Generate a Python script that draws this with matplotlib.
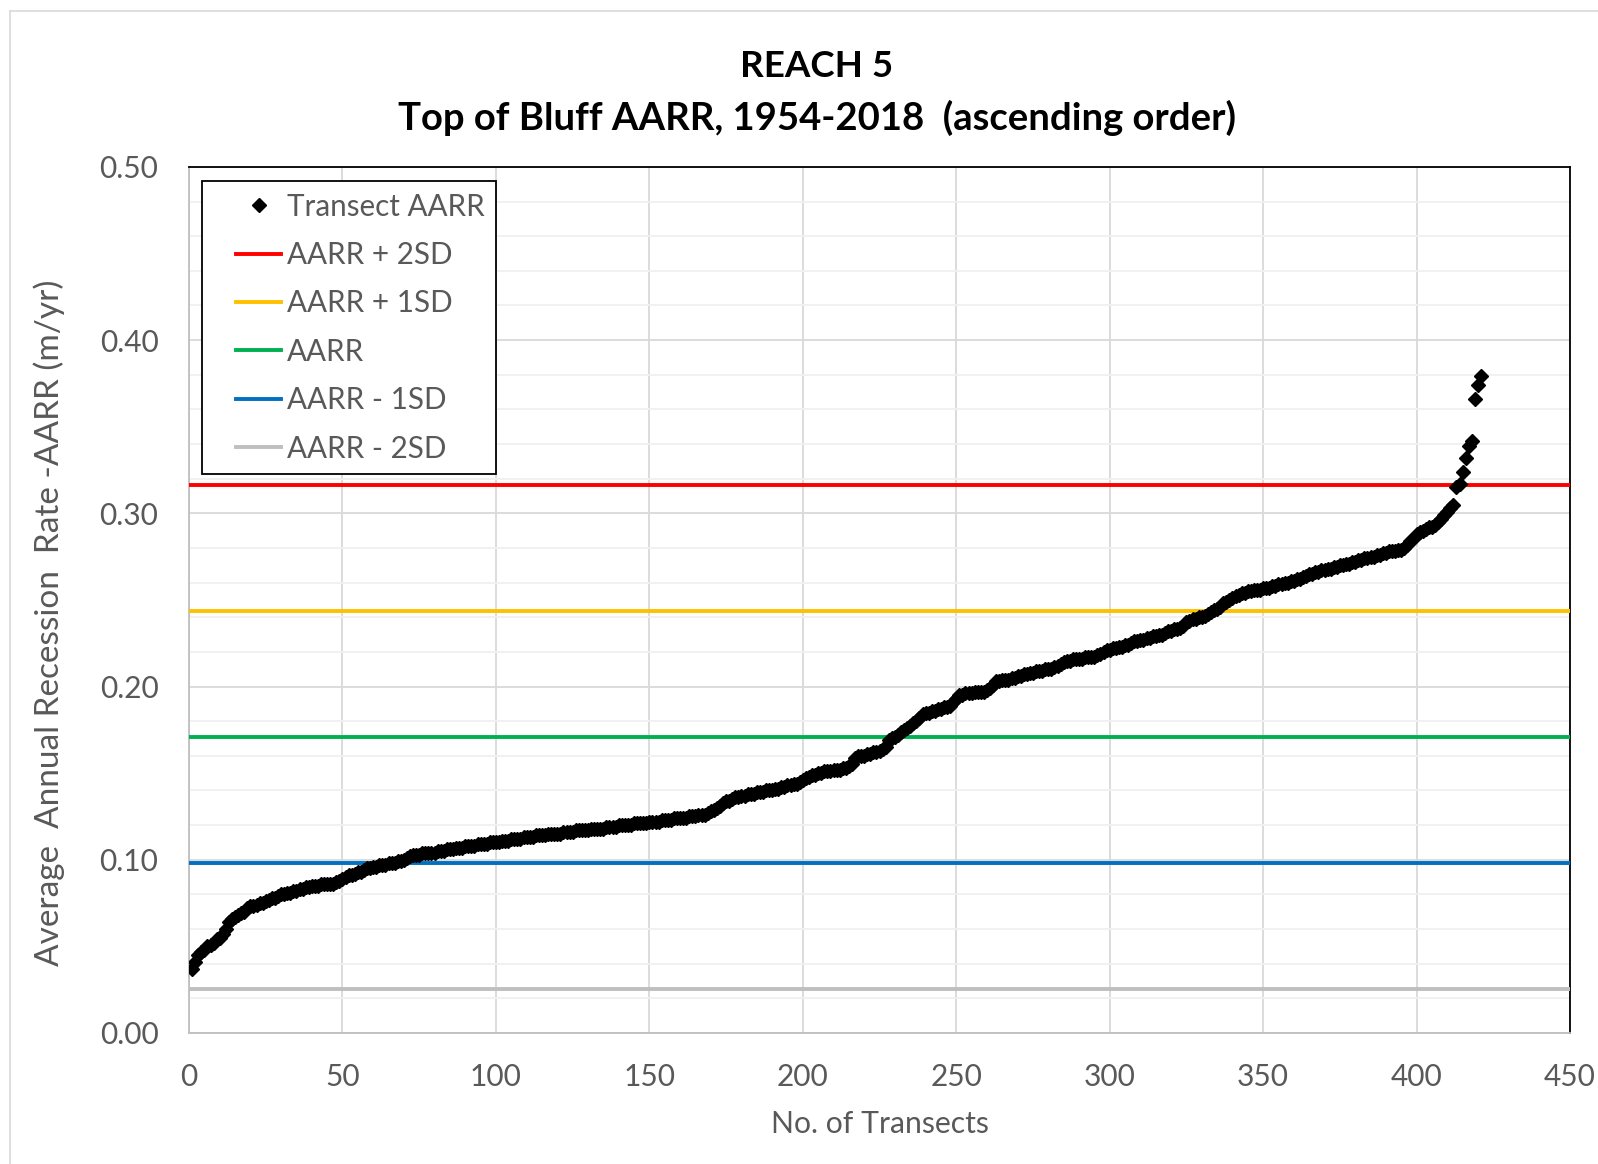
import matplotlib.pyplot as plt
from matplotlib.lines import Line2D
from matplotlib.legend_handler import HandlerLine2D
from matplotlib.ticker import MultipleLocator

# Transect AARR values (m/yr), sorted ascending
aarr = [
    0.037, 0.041, 0.045, 0.047, 0.048, 0.050, 0.051, 0.052, 0.054, 0.055,
    0.057, 0.060, 0.064, 0.066, 0.067, 0.068, 0.069, 0.070, 0.072, 0.073,
    0.073, 0.074, 0.075, 0.075, 0.076, 0.077, 0.078, 0.078, 0.079, 0.080,
    0.080, 0.081, 0.081, 0.082, 0.082, 0.083, 0.083, 0.084, 0.084, 0.085,
    0.085, 0.085, 0.086, 0.086, 0.086, 0.086, 0.086, 0.087, 0.088, 0.089,
    0.090, 0.091, 0.091, 0.092, 0.093, 0.093, 0.094, 0.095, 0.095, 0.096,
    0.096, 0.097, 0.097, 0.097, 0.098, 0.098, 0.098, 0.099, 0.099, 0.100,
    0.101, 0.102, 0.103, 0.103, 0.103, 0.104, 0.104, 0.104, 0.104, 0.104,
    0.105, 0.105, 0.105, 0.106, 0.106, 0.106, 0.107, 0.107, 0.107, 0.108,
    0.108, 0.108, 0.108, 0.109, 0.109, 0.109, 0.109, 0.110, 0.110, 0.110,
    0.110, 0.111, 0.111, 0.111, 0.112, 0.112, 0.112, 0.112, 0.113, 0.113,
    0.113, 0.113, 0.114, 0.114, 0.114, 0.114, 0.115, 0.115, 0.115, 0.115,
    0.115, 0.116, 0.116, 0.116, 0.116, 0.117, 0.117, 0.117, 0.117, 0.117,
    0.118, 0.118, 0.118, 0.118, 0.118, 0.119, 0.119, 0.119, 0.119, 0.120,
    0.120, 0.120, 0.120, 0.120, 0.121, 0.121, 0.121, 0.121, 0.121, 0.122,
    0.122, 0.122, 0.122, 0.123, 0.123, 0.123, 0.123, 0.124, 0.124, 0.124,
    0.124, 0.124, 0.125, 0.125, 0.125, 0.126, 0.126, 0.126, 0.127, 0.128,
    0.129, 0.130, 0.131, 0.133, 0.134, 0.134, 0.135, 0.136, 0.136, 0.137,
    0.137, 0.138, 0.138, 0.138, 0.139, 0.139, 0.139, 0.140, 0.140, 0.140,
    0.141, 0.141, 0.142, 0.142, 0.143, 0.143, 0.144, 0.144, 0.145, 0.146,
    0.147, 0.148, 0.149, 0.149, 0.150, 0.150, 0.151, 0.151, 0.151, 0.152,
    0.152, 0.152, 0.153, 0.153, 0.154, 0.155, 0.159, 0.160, 0.160, 0.160,
    0.161, 0.161, 0.162, 0.162, 0.163, 0.164, 0.165, 0.169, 0.170, 0.171,
    0.172, 0.174, 0.175, 0.176, 0.177, 0.179, 0.180, 0.182, 0.184, 0.185,
    0.185, 0.186, 0.186, 0.187, 0.187, 0.188, 0.188, 0.189, 0.191, 0.193,
    0.195, 0.195, 0.196, 0.196, 0.196, 0.197, 0.197, 0.197, 0.197, 0.198,
    0.199, 0.201, 0.203, 0.203, 0.204, 0.204, 0.204, 0.205, 0.205, 0.206,
    0.206, 0.207, 0.207, 0.208, 0.208, 0.209, 0.209, 0.209, 0.210, 0.210,
    0.210, 0.211, 0.212, 0.213, 0.214, 0.215, 0.215, 0.216, 0.216, 0.216,
    0.216, 0.217, 0.217, 0.217, 0.217, 0.218, 0.219, 0.220, 0.221, 0.221,
    0.222, 0.222, 0.223, 0.223, 0.224, 0.224, 0.225, 0.226, 0.226, 0.227,
    0.227, 0.228, 0.228, 0.229, 0.229, 0.230, 0.230, 0.231, 0.232, 0.232,
    0.233, 0.233, 0.234, 0.235, 0.237, 0.238, 0.239, 0.239, 0.240, 0.240,
    0.241, 0.242, 0.243, 0.244, 0.245, 0.246, 0.248, 0.249, 0.250, 0.251,
    0.252, 0.253, 0.254, 0.254, 0.255, 0.255, 0.256, 0.256, 0.256, 0.257,
    0.257, 0.257, 0.258, 0.258, 0.259, 0.259, 0.260, 0.260, 0.261, 0.261,
    0.262, 0.262, 0.263, 0.264, 0.265, 0.265, 0.266, 0.266, 0.267, 0.267,
    0.268, 0.268, 0.269, 0.269, 0.270, 0.270, 0.271, 0.271, 0.272, 0.272,
    0.273, 0.273, 0.274, 0.274, 0.275, 0.275, 0.276, 0.276, 0.277, 0.277,
    0.278, 0.278, 0.278, 0.279, 0.279, 0.280, 0.282, 0.284, 0.286, 0.288,
    0.289, 0.290, 0.291, 0.292, 0.292, 0.293, 0.295, 0.297, 0.299, 0.301,
    0.303, 0.305, 0.315, 0.317, 0.324, 0.332, 0.339, 0.342, 0.366, 0.374, 0.379,
]
transects = list(range(1, len(aarr) + 1))

# reference lines (m/yr)
ref_labels = ["AARR + 2SD", "AARR + 1SD", "AARR", "AARR - 1SD", "AARR - 2SD"]
ref_values = [0.3164, 0.2436, 0.1708, 0.0980, 0.0252]
ref_colors = ["#FF0000", "#FFC000", "#00B050", "#0070C0", "#BFBFBF"]

plt.rcParams["font.family"] = ["Lato", "DejaVu Sans"]
grey_txt = "#595959"

fig = plt.figure(figsize=(15.98, 11.64), dpi=100)
ax = fig.add_axes([0.1183, 0.1126, 0.8642, 0.7440])

ax.plot(transects, aarr, linestyle="none", marker="D", markersize=6.8,
        color="black", label="Transect AARR", zorder=4)
for lab, val, col in zip(ref_labels, ref_values, ref_colors):
    ax.axhline(val, color=col, linewidth=2.8, label=lab, zorder=3)

ax.set_xlim(0, 450)
ax.set_ylim(0, 0.5)
ax.xaxis.set_major_locator(MultipleLocator(50))
ax.yaxis.set_major_locator(MultipleLocator(0.1))
ax.yaxis.set_minor_locator(MultipleLocator(0.02))
ax.yaxis.set_major_formatter(plt.FormatStrFormatter("%.2f"))
ax.grid(which="major", color="#D9D9D9", linewidth=1.3, zorder=0)
ax.grid(which="minor", axis="y", color="#F0F0F0", linewidth=1.3, zorder=0)
ax.set_axisbelow(True)
ax.tick_params(which="both", length=0, labelsize=21.5, labelcolor=grey_txt)
ax.tick_params(axis="y", pad=22)
ax.tick_params(axis="x", pad=22)

for side in ["top", "right"]:
    ax.spines[side].set_color("black")
    ax.spines[side].set_linewidth(1.3)
for side in ["left", "bottom"]:
    ax.spines[side].set_color("#BFBFBF")
    ax.spines[side].set_linewidth(1.3)

ax.set_xlabel("No. of Transects", fontsize=21.7, color=grey_txt, labelpad=13)
fig.text(0.0307, 0.4648, "Average  Annual Recession  Rate -AARR (m/yr)",
         rotation=90, ha="center", va="center", fontsize=24, color=grey_txt)

leg = ax.legend(loc="upper left", bbox_to_anchor=(0.0095, 0.9834), fontsize=21.3,
                frameon=True, fancybox=False, framealpha=1, edgecolor="black",
                borderpad=0.38, labelspacing=0.69, handlelength=2.3,
                handletextpad=0.19, borderaxespad=0,
                handler_map={Line2D: HandlerLine2D(xpad=0.75)})
leg.get_frame().set_linewidth(1.3)
for t in leg.get_texts():
    t.set_color(grey_txt)

fig.text(0.511, 0.9425, "REACH 5", ha="center", va="center",
         fontsize=26.5, fontweight="bold", color="black")
fig.text(0.511, 0.8985, "Top of Bluff AARR, 1954-2018  (ascending order)",
         ha="center", va="center", fontsize=27.5, fontweight="bold", color="black")

# chart-area border (top and left edges visible in the source)
fig.add_artist(Line2D([0.0064, 1.0], [0.9904, 0.9904], color="#D9D9D9", linewidth=1.2))
fig.add_artist(Line2D([0.0064, 0.0064], [0.0, 0.9904], color="#D9D9D9", linewidth=1.2))

plt.savefig("out.png", dpi=100)
plt.close()
